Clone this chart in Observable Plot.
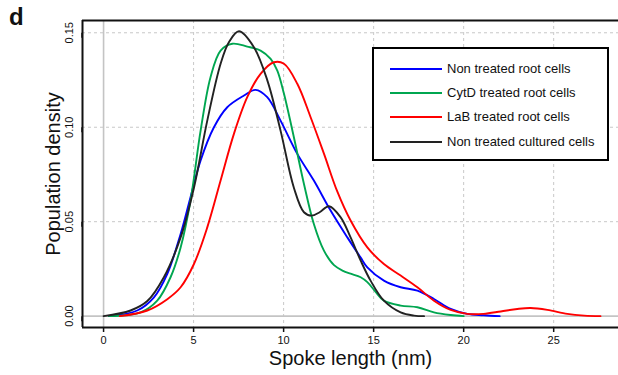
<!DOCTYPE html>
<html>
<head>
<meta charset="utf-8">
<script src="https://cdn.jsdelivr.net/npm/d3@7"></script>
<script src="https://cdn.jsdelivr.net/npm/@observablehq/plot@0.6"></script>
<style>
  html, body { margin: 0; padding: 0; background: #fff; }
  #wrap { position: relative; width: 618px; height: 375px; font-family: "Liberation Sans", Arial, Helvetica, sans-serif; }
  #title { position: absolute; left: 9px; top: 1px; font-size: 24px; font-weight: bold; line-height: 32px; color: #111; }
  #legend { position: absolute; left: 372px; top: 47px; width: 237px; height: 114px; box-sizing: border-box; border: 2px solid #000; background: #fff; }
  .lrow { position: absolute; left: 0; height: 20px; width: 100%; }
  .lline { position: absolute; left: 16px; top: 9px; width: 52px; height: 2px; }
  .ltext { position: absolute; left: 73px; top: 0; font-size: 13px; line-height: 20px; color: #111; white-space: nowrap; }
</style>
</head>
<body>
<div id="wrap">
  <div id="chart"></div>
  <div id="title">d</div>
  <div id="legend"></div>
</div>
<script>
// ---- data ----
const seriesNames = ["Non treated root cells", "CytD treated root cells", "LaB treated root cells", "Non treated cultured cells"];
const seriesColors = ["#0000ff", "#00a650", "#ff0000", "#222222"];

const xNonTreatedRoot = [0.3, 1.87, 2.8, 3.54, 4.28, 4.83, 5.39, 6.13, 6.87, 7.8, 8.44, 9.09, 9.83, 10.76, 11.68, 12.61, 13.54, 14.28, 14.65, 15.57, 16.5, 17.43, 18.35, 19.28, 20.2, 21.1, 22.0];
const yNonTreatedRoot = [0, 0.003, 0.01, 0.0224, 0.0435, 0.063, 0.0824, 0.1, 0.1106, 0.1168, 0.1198, 0.1159, 0.1035, 0.0859, 0.0718, 0.0559, 0.0417, 0.031, 0.0258, 0.0188, 0.0153, 0.0135, 0.0091, 0.0038, 0.0012, 0.0005, 0];

const xCytD = [0.3, 2.06, 2.98, 3.72, 4.28, 4.83, 5.39, 5.94, 6.5, 7.15, 7.98, 8.72, 9.28, 9.65, 10.02, 10.57, 11.13, 11.68, 12.24, 12.8, 13.3, 13.72, 14.28, 14.65, 15.1, 15.57, 16.5, 17.43, 18.35, 19.28, 20.0];
const yCytD = [0, 0.002, 0.0082, 0.0206, 0.0364, 0.0612, 0.0982, 0.1265, 0.1406, 0.1442, 0.1427, 0.1406, 0.1362, 0.13, 0.1177, 0.0947, 0.07, 0.0488, 0.0347, 0.027, 0.024, 0.0225, 0.0206, 0.018, 0.013, 0.0082, 0.0056, 0.0047, 0.002, 0.0006, 0];

const xLaB = [0.9, 2.43, 3.54, 4.28, 5.02, 5.76, 6.5, 7.24, 7.98, 8.72, 9.46, 10.02, 10.76, 11.5, 12.24, 12.98, 13.72, 14.65, 15.57, 16.5, 17.43, 18.35, 19.28, 20.2, 21.1, 22.06, 22.98, 23.72, 24.65, 25.76, 26.7, 27.6];
const yLaB = [0, 0.003, 0.009, 0.0153, 0.0276, 0.047, 0.0718, 0.0965, 0.1159, 0.1283, 0.1344, 0.1336, 0.123, 0.1053, 0.086, 0.066, 0.0506, 0.0364, 0.0276, 0.0215, 0.0153, 0.0082, 0.0033, 0.0012, 0.0012, 0.0025, 0.0038, 0.0043, 0.0033, 0.0012, 0.0003, 0];

const xCultured = [0, 1.5, 2.43, 3.35, 4.28, 5.02, 5.76, 6.5, 6.96, 7.52, 8.35, 9.1, 9.83, 10.57, 11.13, 11.55, 12.0, 12.52, 13.17, 13.72, 14.28, 14.83, 15.57, 16.5, 17.24, 17.8];
const yCultured = [0, 0.003, 0.008, 0.0206, 0.0417, 0.068, 0.1035, 0.1336, 0.145, 0.1508, 0.1424, 0.1247, 0.0982, 0.068, 0.055, 0.0532, 0.055, 0.0582, 0.0523, 0.0417, 0.0294, 0.0188, 0.0082, 0.002, 0.0003, 0];

const xTicks = [0, 5, 10, 15, 20, 25];
const yTicks = [0, 0.05, 0.10, 0.15];
const xGrid = [5, 10, 15, 20, 25];
const yGrid = [0.05, 0.10, 0.15];
const xDomain = [-1.17, 28.6];
const yDomain = [-0.006, 0.1565];

// ---- build table ----
const seriesX = [xNonTreatedRoot, xCytD, xLaB, xCultured];
const seriesY = [yNonTreatedRoot, yCytD, yLaB, yCultured];
const rows = [];
seriesNames.forEach((name, i) => {
  seriesX[i].forEach((x, j) => rows.push({series: name, x, y: seriesY[i][j]}));
});

const font = "Liberation Sans, Arial, Helvetica, sans-serif";

const chart = Plot.plot({
  width: 618,
  height: 375,
  marginLeft: 82,
  marginRight: 0,
  marginTop: 20,
  marginBottom: 48,
  style: {fontFamily: font, background: "#fff", color: "#111", overflow: "visible"},
  x: {domain: xDomain, label: null},
  y: {domain: yDomain, label: null},
  color: {domain: seriesNames, range: seriesColors},
  marks: [
    Plot.gridX(xGrid, {stroke: "#c8c8c8", strokeOpacity: 1, strokeDasharray: "3,3", strokeWidth: 1}),
    Plot.gridY(yGrid, {stroke: "#c8c8c8", strokeOpacity: 1, strokeDasharray: "3,3", strokeWidth: 1}),
    Plot.ruleX([0], {stroke: "#c4c4c4", strokeWidth: 1.6}),
    Plot.ruleY([0], {stroke: "#c4c4c4", strokeWidth: 1.6}),
    Plot.line(rows, {x: "x", y: "y", z: "series", stroke: "series", strokeWidth: 1.9, curve: "catmull-rom"}),
    Plot.ruleX([xDomain[0]], {stroke: "#111", strokeWidth: 2}),
    Plot.ruleY([yDomain[0]], {stroke: "#111", strokeWidth: 2}),
    Plot.ruleY([yDomain[1]], {stroke: "#111", strokeWidth: 2}),
    Plot.axisX({ticks: xTicks, tickSize: 5, tickPadding: 4, fontSize: 11, stroke: "#111", strokeWidth: 1.5, tickFormat: d => String(d), label: null}),
    Plot.axisY({ticks: yTicks, tickSize: 5, tickPadding: 5, fontSize: 11, stroke: "#111", strokeWidth: 1.5, tickFormat: d3.format(".2f"), rotate: -90, textAnchor: "middle", lineAnchor: "bottom", label: null}),
    Plot.text(["Spoke length (nm)"], {frameAnchor: "bottom", dy: 37, fontSize: 20, fill: "#111", lineAnchor: "bottom", textAnchor: "middle"}),
    Plot.text(["Population density"], {frameAnchor: "left", dx: -23, fontSize: 20, fill: "#111", rotate: -90, lineAnchor: "bottom", textAnchor: "middle"})
  ]
});
document.getElementById("chart").appendChild(chart);

// ---- legend ----
const legend = document.getElementById("legend");
seriesNames.forEach((name, i) => {
  const row = document.createElement("div");
  row.className = "lrow";
  row.style.top = (9.5 + 24.4 * i) + "px";
  const line = document.createElement("div");
  line.className = "lline";
  line.style.background = seriesColors[i];
  const txt = document.createElement("div");
  txt.className = "ltext";
  txt.textContent = name;
  row.appendChild(line);
  row.appendChild(txt);
  legend.appendChild(row);
});
</script>
</body>
</html>
